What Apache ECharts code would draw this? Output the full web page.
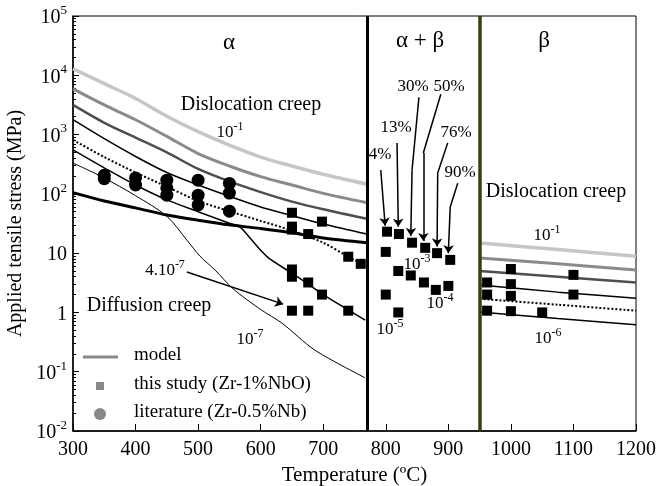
<!DOCTYPE html>
<html>
<head>
<meta charset="utf-8">
<script src="https://cdn.jsdelivr.net/npm/echarts@6/dist/echarts.min.js"></script>
<style>
  html, body { margin: 0; padding: 0; background: #fff; }
  #chart { width: 672px; height: 486px; }
</style>
</head>
<body>
<div id="chart"></div>
<script>
// ---- data (temperature in C, stress in MPa) ----
const alphaT = [300, 350, 400, 450, 500, 550, 600, 650, 700, 770]
const alphaRate1 = [12900, 7240, 4070, 2040, 1120, 661, 417, 295, 214, 145]
const alphaRate2 = [5890, 3160, 1780, 933, 479, 295, 195, 141, 102, 71]
const alphaRate3 = [3160, 1580, 891, 501, 263, 162, 107, 74, 55, 38]
const alphaRate4 = [1780, 851, 427, 229, 141, 91, 60, 43, 31, 21]
const alphaThick = [105, 76, 58, 44, 36, 30, 26, 22, 18, 15]

const alphaDottedT = [300, 350, 400, 450, 500, 550, 600, 650, 700, 740, 770]
const alphaDotted = [813, 417, 229, 132, 76, 51, 35, 24, 15, 8.7, 6.0]

const alphaRate6T = [300, 350, 400, 450, 500, 550, 567, 583, 600, 615, 650, 676, 700, 740, 767]
const alphaRate6 = [550, 275, 141, 79, 50, 32, 27.5, 18, 11.2, 7.9, 4.6, 3.0, 2.0, 1.1, 0.74]

const diffusionT = [300, 348, 400, 450, 482, 503, 527, 556, 600, 634, 687, 767]
const diffusion = [331, 190, 93, 42, 16.6, 8.9, 5.2, 2.5, 1.12, 0.66, 0.23, 0.079]

const betaT = [950, 1075, 1200]
const betaRate1 = [14.8, 11.5, 8.9]
const betaRate2 = [8.3, 6.6, 5.2]
const betaRate3 = [5.0, 4.0, 3.2]
const betaRate4 = [2.9, 2.2, 1.74]
const betaDotted = [1.7, 1.35, 1.07]
const betaRate6 = [1.02, 0.79, 0.62]

const studyT = [650, 650, 650, 676, 698, 740, 760, 650, 650, 676, 698, 740, 650, 676,
  802, 821, 842, 863, 882, 903, 800, 820, 840, 861, 880, 900, 800, 820,
  962, 962, 962, 1000, 1000, 1000, 1000, 1050, 1100, 1100]
const studyStress = [48, 28, 25, 21, 34, 8.7, 6.6, 5.3, 4.0, 3.2, 2.0, 1.07, 1.07, 1.07,
  23, 21, 15, 12.3, 10, 7.7, 10.5, 5.0, 4.2, 3.2, 2.4, 2.8, 2.0, 1.0,
  3.2, 2.0, 1.07, 5.4, 3.0, 1.9, 1.05, 1.0, 4.3, 2.0]

const litT = [350, 350, 400, 400, 450, 450, 450, 500, 500, 500, 550, 550, 550]
const litStress = [205, 180, 186, 141, 170, 126, 95, 170, 95, 65, 150, 103, 51]

const phaseBounds = [770, 950]
const xTicks = [300, 1200, 100]

// annotation arrows, in data coordinates
const arrowPaths = [
  [[792, 251], [799, 29]],
  [[818, 724], [820, 28]],
  [[853, 4270], [842, 251], [840, 19.5]],
  [[888, 4790], [860, 490], [860, 16]],
  [[899, 724], [883, 224], [882, 13]],
  [[915, 151], [903, 60], [900, 10]],
  [[482, 4.8], [636, 1.38]]
]

const serif = 'Liberation Serif'

function pairs (ts, vals) {
  return ts.map((t, i) => [t, vals[i]])
}

function curve (name, ts, vals, color, width, type) {
  return {
    name: name,
    type: 'line',
    data: pairs(ts, vals),
    smooth: 0.3,
    showSymbol: false,
    silent: true,
    lineStyle: { color: color, width: width, type: type || 'solid' }
  }
}

function supText (base, exp) {
  return '{b|' + base + '}{s|' + exp + '}'
}

// split arrows into plain segments and arrow-head segments
const plainSegs = []
const headSegs = []
arrowPaths.forEach(p => {
  for (let i = 0; i < p.length - 1; i++) {
    const seg = { coords: [p[i], p[i + 1]] }
    if (i === p.length - 2) headSegs.push(seg)
    else plainSegs.push(seg)
  }
})

const notes = [
  { x: 229, y: 43, text: 'α', size: 23 },
  { x: 420, y: 41, text: 'α + β', size: 23 },
  { x: 544, y: 41, text: 'β', size: 23 },
  { x: 251, y: 105, text: 'Dislocation creep', size: 20 },
  { x: 556, y: 192, text: 'Dislocation creep', size: 20 },
  { x: 149, y: 306, text: 'Diffusion creep', size: 20 },
  { x: 230, y: 131, text: supText('10', '-1'), size: 17 },
  { x: 547, y: 234, text: supText('10', '-1'), size: 17 },
  { x: 165, y: 269, text: supText('4.10', '-7'), size: 17 },
  { x: 250, y: 338, text: supText('10', '-7'), size: 17 },
  { x: 417, y: 263, text: supText('10', '-3'), size: 17 },
  { x: 440, y: 302, text: supText('10', '-4'), size: 17 },
  { x: 390, y: 328, text: supText('10', '-5'), size: 17 },
  { x: 548, y: 337, text: supText('10', '-6'), size: 17 },
  { x: 380, y: 155, text: '4%', size: 17 },
  { x: 396, y: 128, text: '13%', size: 17 },
  { x: 413, y: 87, text: '30%', size: 17 },
  { x: 449, y: 87, text: '50%', size: 17 },
  { x: 456, y: 133, text: '76%', size: 17 },
  { x: 460, y: 173, text: '90%', size: 17 }
]

const graphics = notes.map(n => ({
  type: 'text',
  x: n.x,
  y: n.y,
  z: 100,
  style: {
    text: n.text,
    fill: '#000',
    font: n.size + 'px "' + serif + '"',
    align: 'center',
    verticalAlign: 'middle',
    rich: {
      b: { fontSize: n.size, fontFamily: serif, lineHeight: n.size + 4, verticalAlign: 'bottom' },
      s: { fontSize: Math.round(n.size * 0.68), fontFamily: serif, lineHeight: n.size + 4, verticalAlign: 'top' }
    }
  }
}))

// legend (drawn by hand, grey keys)
const legendItems = [
  { y: 357, text: 'model' },
  { y: 386, text: 'this study (Zr-1%NbO)' },
  { y: 414, text: 'literature (Zr-0.5%Nb)' }
]
graphics.push(
  { type: 'line', shape: { x1: 83, y1: 357, x2: 118, y2: 357 }, style: { stroke: '#888', lineWidth: 3 }, z: 100 },
  { type: 'rect', shape: { x: 96, y: 382, width: 8, height: 8 }, style: { fill: '#888' }, z: 100 },
  { type: 'circle', shape: { cx: 100, cy: 414, r: 6 }, style: { fill: '#888' }, z: 100 }
)
legendItems.forEach(it => {
  graphics.push({
    type: 'text',
    left: 134,
    top: it.y - 11,
    z: 100,
    style: { text: it.text, fill: '#000', fontFamily: serif, fontSize: 19 }
  })
})

const chart = echarts.init(document.getElementById('chart'))
const option = {
  animation: false,
  backgroundColor: '#fff',
  grid: {
    left: 73, right: 36, top: 16, bottom: 55,
    outerBoundsMode: 'none',
    containLabel: false,
    show: true, borderColor: '#000', borderWidth: 1
  },
  xAxis: {
    type: 'value',
    min: xTicks[0],
    max: xTicks[1],
    interval: xTicks[2],
    name: 'Temperature (ºC)',
    nameLocation: 'middle',
    nameGap: 19,
    nameTextStyle: { fontFamily: serif, fontSize: 21, color: '#000', verticalAlign: 'top' },
    axisLine: { lineStyle: { color: '#000', width: 1.5 } },
    axisTick: { inside: true, length: 7, lineStyle: { color: '#000' } },
    axisLabel: {
      fontFamily: serif, fontSize: 20, color: '#000', margin: 9,
      formatter: function (v) { return String(v) }
    },
    splitLine: { show: false }
  },
  yAxis: {
    type: 'log',
    logBase: 10,
    min: 0.01,
    max: 100000,
    name: 'Applied tensile stress (MPa)',
    nameLocation: 'middle',
    nameGap: 34,
    nameTextStyle: { fontFamily: serif, fontSize: 20, color: '#000' },
    axisLine: { lineStyle: { color: '#000', width: 1.5 } },
    axisTick: { inside: true, length: 6, lineStyle: { color: '#000' } },
    minorTick: { show: true, splitNumber: 9, length: 3, lineStyle: { color: '#000' } },
    axisLabel: {
      color: '#000',
      margin: 6,
      formatter: function (v) {
        const e = Math.round(Math.log10(v))
        if (e === 1) return '{b|10}'
        if (e === 0) return '{b|1}'
        return '{b|10}{s|' + e + '}'
      },
      rich: {
        b: { fontFamily: serif, fontSize: 20, lineHeight: 24, verticalAlign: 'bottom' },
        s: { fontFamily: serif, fontSize: 13, lineHeight: 24, verticalAlign: 'top' }
      }
    },
    splitLine: { show: false }
  },
  graphic: graphics,
  series: [
    curve('a1', alphaT, alphaRate1, '#c6c6c6', 3.5),
    curve('a2', alphaT, alphaRate2, '#8a8a8a', 3),
    curve('a3', alphaT, alphaRate3, '#4e4e4e', 2.5),
    curve('a4', alphaT, alphaRate4, '#000', 1.5),
    curve('a5', alphaDottedT, alphaDotted, '#000', 2, 'dotted'),
    curve('a6', alphaRate6T, alphaRate6, '#000', 1.5),
    curve('diff', diffusionT, diffusion, '#000', 1),
    Object.assign(curve('thick', alphaT, alphaThick, '#000', 3), {
      markLine: {
        silent: true,
        symbol: 'none',
        label: { show: false },
        data: [
          { xAxis: phaseBounds[0], lineStyle: { color: '#000', width: 3, type: 'solid' } },
          { xAxis: phaseBounds[1], lineStyle: { color: '#3d3b12', width: 3.5, type: 'solid' } }
        ]
      }
    }),
    curve('b1', betaT, betaRate1, '#c6c6c6', 3.5),
    curve('b2', betaT, betaRate2, '#8a8a8a', 3),
    curve('b3', betaT, betaRate3, '#4e4e4e', 2.5),
    curve('b4', betaT, betaRate4, '#000', 1.5),
    curve('b5', betaT, betaDotted, '#000', 2, 'dotted'),
    curve('b6', betaT, betaRate6, '#000', 1.5),
    {
      name: 'this study',
      type: 'scatter',
      symbol: 'rect',
      symbolSize: 10,
      itemStyle: { color: '#000', opacity: 1 },
      data: pairs(studyT, studyStress),
      z: 5
    },
    {
      name: 'literature',
      type: 'scatter',
      symbol: 'circle',
      symbolSize: 13,
      itemStyle: { color: '#000', opacity: 1 },
      data: pairs(litT, litStress),
      z: 5
    },
    {
      type: 'lines',
      coordinateSystem: 'cartesian2d',
      silent: true,
      symbol: 'none',
      lineStyle: { color: '#000', width: 1.5, opacity: 1 },
      data: plainSegs,
      z: 6
    },
    {
      type: 'lines',
      coordinateSystem: 'cartesian2d',
      silent: true,
      symbol: ['none', 'arrow'],
      symbolSize: 8,
      lineStyle: { color: '#000', width: 1.5, opacity: 1 },
      data: headSegs,
      z: 6
    }
  ]
}
chart.setOption(option)
</script>
</body>
</html>
